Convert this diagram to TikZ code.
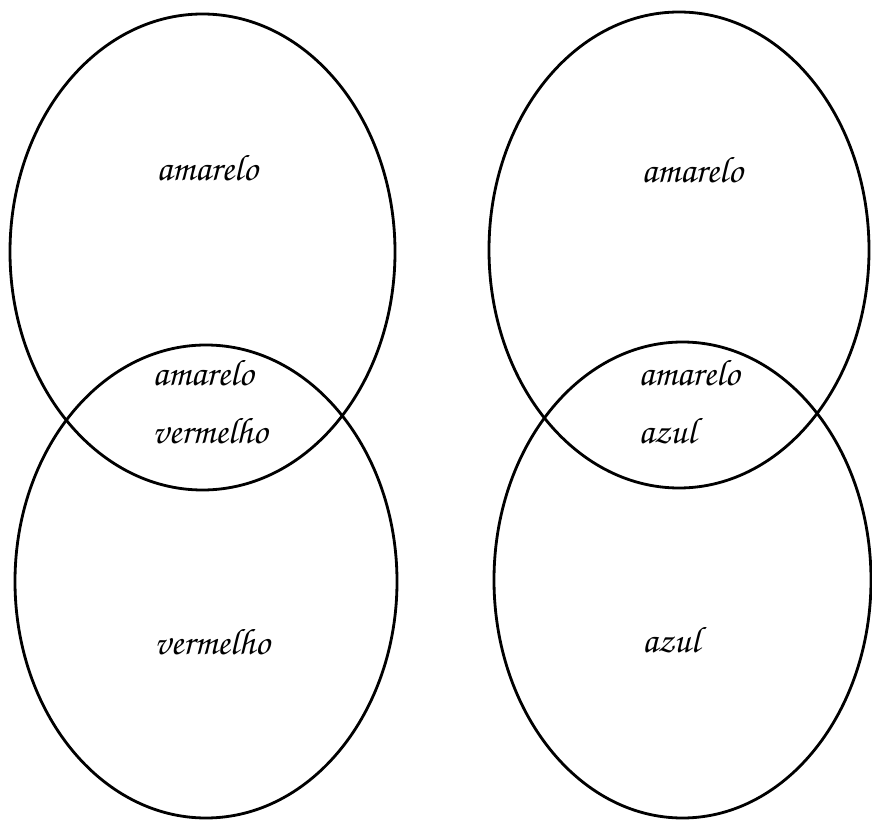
\documentclass[tikz,border=0pt]{standalone}
\usepackage[T1]{fontenc}
\newcommand{\handfont}{\fontencoding{T1}\fontfamily{pzc}\fontseries{mb}\fontshape{it}\selectfont}

\begin{document}
\begin{tikzpicture}[
  x=0.02cm,
  y=-0.02cm,
  setline/.style={black, line width=1.6pt},
  setlab/.style={font=\handfont\fontsize{21}{25}\selectfont, inner sep=0pt},
  bothlab/.style={setlab, align=left, anchor=west}
]
  % ---- page frame, same size as the reference ----
  \useasboundingbox (0,0) rectangle (872,820);

  % ---- left pair: amarelo / vermelho ----
  \draw[setline] (202.5,252) ellipse [x radius=192.5, y radius=238];
  \draw[setline] (206,581.5) ellipse [x radius=191, y radius=236.5];
  \node[setlab] (amareloL) at (207,168) {amarelo};
  \node[bothlab] (amareloVermelho) at (152,402) {amarelo\\[8pt]vermelho};
  \node[setlab] (vermelho) at (212,642) {vermelho};

  % ---- right pair: amarelo / azul ----
  \draw[setline] (679,250) ellipse [x radius=190, y radius=238];
  \draw[setline] (682.5,580) ellipse [x radius=188.5, y radius=238];
  \node[setlab] (amareloR) at (692,170) {amarelo};
  \node[bothlab] (amareloAzul) at (638,402) {amarelo\\[8pt]azul};
  \node[setlab] (azul) at (671,640) {azul};
\end{tikzpicture}
\end{document}
